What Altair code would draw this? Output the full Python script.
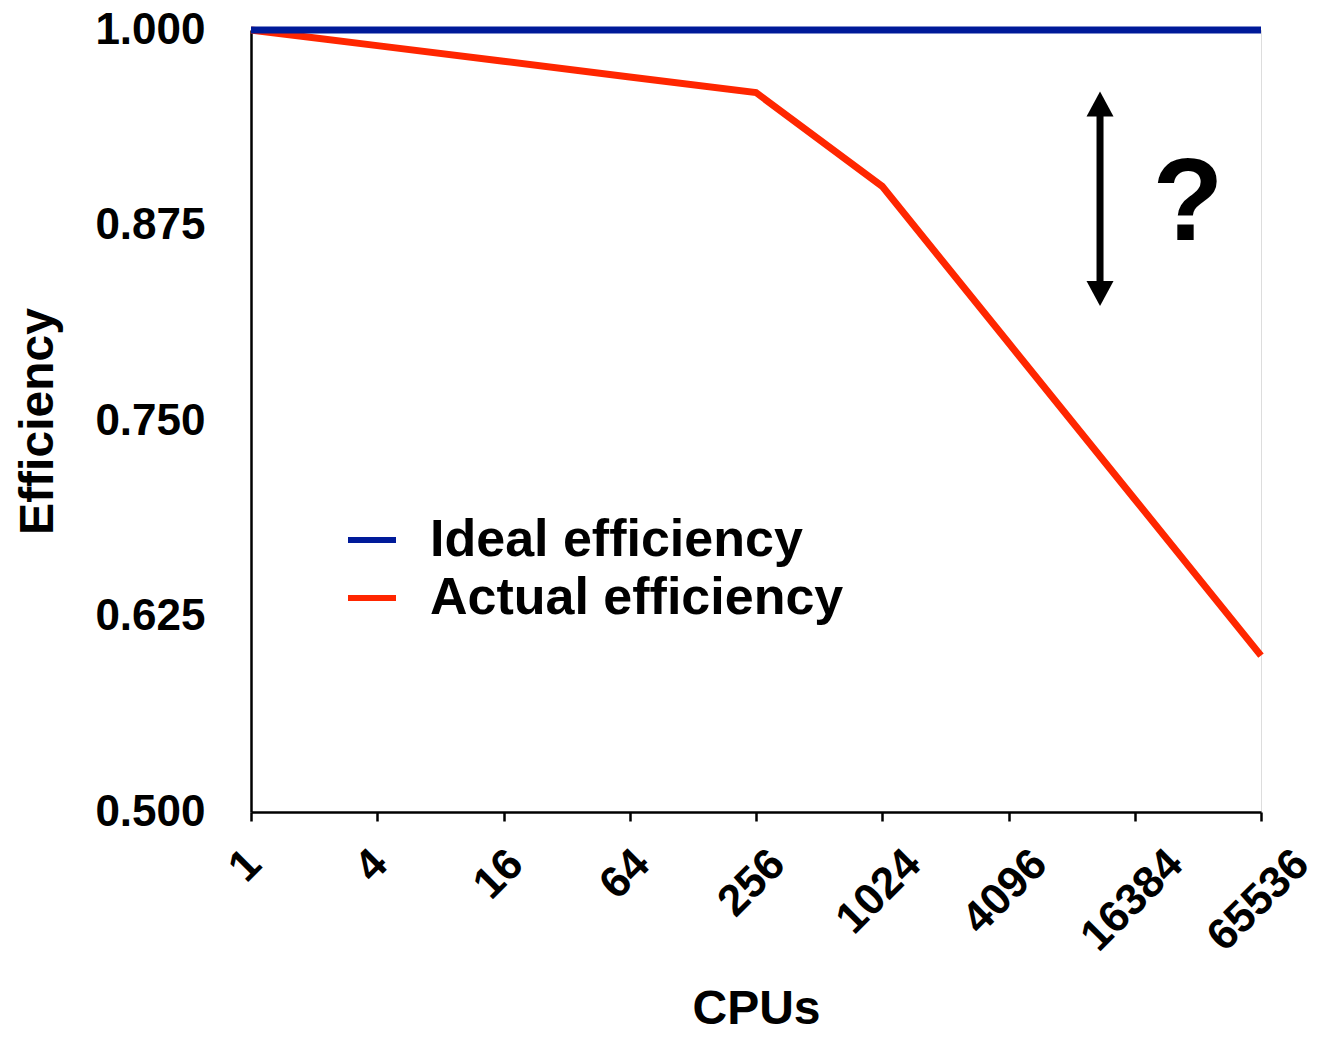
import altair as alt
import pandas as pd

cpus = [1, 4, 16, 64, 256, 1024, 4096, 16384, 65536]
ideal = [1.0, 1.0, 1.0, 1.0, 1.0, 1.0, 1.0, 1.0, 1.0]
actual = [1.0, 0.99, 0.98, 0.97, 0.96, 0.90, 0.80, 0.70, 0.60]
series_names = ["Ideal efficiency", "Actual efficiency"]
series_colors = ["#001A99", "#FF2600"]
y_ticks = [0.5, 0.625, 0.75, 0.875, 1.0]

# annotation: double arrow and question mark
arrow_x = [11190]
arrow_top = [0.9527]
arrow_bottom = [0.8315]
q_x = [29340]
q_y = [0.8657]

FONT = "Liberation Sans"

df_ideal = pd.DataFrame({"CPUs": cpus, "Efficiency": ideal, "Series": series_names[0]})
df_actual = pd.DataFrame({"CPUs": cpus, "Efficiency": actual, "Series": series_names[1]})

xscale = alt.Scale(type="log", base=2, domain=[1, 65536], nice=False)
yscale = alt.Scale(domain=[0.5, 1.0], nice=False, zero=False)
cscale = alt.Scale(domain=series_names, range=series_colors)

xenc = alt.X("CPUs:Q", scale=xscale, title="CPUs",
             axis=alt.Axis(values=cpus, format="d", labelAngle=-45, grid=False,
                           labelFont=FONT, labelFontSize=44, labelFontWeight="bold",
                           labelColor="black", labelAlign="right", labelBaseline="middle",
                           labelPadding=36,
                           labelOffset=alt.ExprRef(expr="length(datum.label) * 9.4 - 6.5"),
                           titleFont=FONT, titleFontSize=48, titleFontWeight="bold",
                           titleColor="black", titlePadding=26,
                           domainColor="black", domainWidth=2.5,
                           tickColor="black", tickWidth=2.5, tickSize=9,
                           labelFlush=False, labelOverlap=False))
yenc = alt.Y("Efficiency:Q", scale=yscale, title="Efficiency",
             axis=alt.Axis(values=y_ticks, format=".3f", grid=False, ticks=False,
                           labelFont=FONT, labelFontSize=44, labelFontWeight="bold",
                           labelColor="black", labelPadding=46,
                           titleFont=FONT, titleFontSize=48, titleFontWeight="bold",
                           titleColor="black", titlePadding=32,
                           domainColor="black", domainWidth=2.5,
                           labelFlush=False, labelOverlap=False))

legend = alt.Legend(title=None, orient="none", legendX=94, legendY=483,
                    symbolType="stroke", symbolSize=2304, symbolStrokeWidth=6,
                    labelFont=FONT, labelFontSize=52, labelFontWeight="bold",
                    labelColor="black", labelOffset=31, rowPadding=5,
                    labelLimit=600)

actual_line = alt.Chart(df_actual).mark_line(strokeWidth=7, clip=False).encode(
    x=xenc, y=yenc,
    color=alt.Color("Series:N", scale=cscale, legend=legend, sort=series_names),
)
ideal_line = alt.Chart(df_ideal).mark_line(strokeWidth=7, clip=False).encode(
    x=xenc, y=yenc,
    color=alt.Color("Series:N", scale=cscale, legend=legend, sort=series_names),
)

df_arrow = pd.DataFrame({"x": arrow_x, "top": arrow_top, "bottom": arrow_bottom})
shaft = alt.Chart(df_arrow).mark_rule(color="black", strokeWidth=7).encode(
    x=alt.X("x:Q", scale=xscale), y=alt.Y("top:Q", scale=yscale), y2="bottom:Q"
)
head_up = alt.Chart(df_arrow).mark_point(
    shape="M0,-0.93L-1,0.93L1,0.93Z", filled=True, color="black", size=729, opacity=1
).encode(x=alt.X("x:Q", scale=xscale), y=alt.Y("top:Q", scale=yscale))
head_down = alt.Chart(df_arrow).mark_point(
    shape="M0,0.93L-1,-0.93L1,-0.93Z", filled=True, color="black", size=729, opacity=1
).encode(x=alt.X("x:Q", scale=xscale), y=alt.Y("bottom:Q", scale=yscale))

df_q = pd.DataFrame({"x": q_x, "y": q_y, "t": ["?"]})
qmark = alt.Chart(df_q).mark_text(
    font=FONT, fontSize=116, fontWeight="bold", color="black",
    align="center", baseline="alphabetic"
).encode(x=alt.X("x:Q", scale=xscale), y=alt.Y("y:Q", scale=yscale), text="t:N")

chart = alt.layer(actual_line, ideal_line, shaft, head_up, head_down, qmark).properties(
    width=1010, height=782,
    autosize=alt.AutoSizeParams(type="none"),
    padding={"left": 243, "top": 22, "right": 47, "bottom": 220},
).configure_view(stroke=None).configure(background="white")

chart.save("out.html", embed_options={"renderer": "svg", "actions": False})
